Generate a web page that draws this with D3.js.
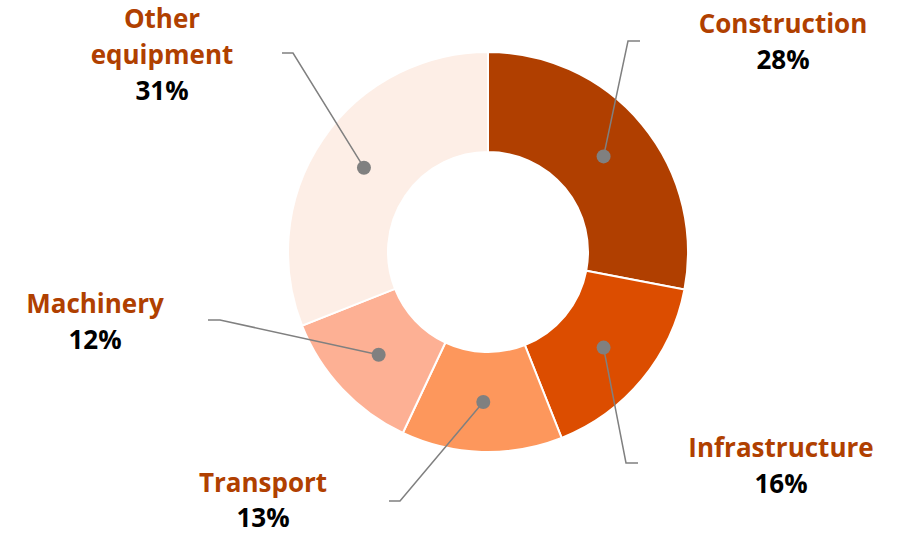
<!DOCTYPE html>
<html lang="en">
  <head>
    <meta charset="utf-8" />
    <title>Donut chart</title>
    <script src="https://d3js.org/d3.v7.min.js"></script>
    <style type="text/css">
      body {
        margin: 0;
        background: #ffffff;
      }
      text {
        font-family: "Open Sans", sans-serif;
        font-weight: bold;
        font-size: 26px;
      }
    </style>
  </head>
  <body>
    <script type="text/javascript">
      //Width and height
      var w = 897;
      var h = 534;

      //Data
      var categories = ["Construction", "Infrastructure", "Transport", "Machinery", "Other equipment"];
      var shares = [28, 16, 13, 12, 31];
      var colors = ["#b03f00", "#dc4d00", "#fd975c", "#fdb094", "#fdeee6"];

      //Label layout, offsets from the donut centre
      var labelLayout = [
        { elbow: [140, -211], end: [152, -211], tx: 295, lines: [-219] },
        { elbow: [138, 211], end: [150, 211], tx: 293, lines: [205] },
        { elbow: [-88, 249], end: [-99, 249], tx: -225, lines: [240], gap: 35 },
        { elbow: [-268, 68], end: [-280, 68], tx: -393, lines: [61] },
        { elbow: [-195, -199], end: [-206, -199], tx: -326, lines: [-224, -188] }
      ];

      var cx = 488;
      var cy = 252;
      var outerR = 200;
      var innerR = 100;
      var dotR = 150;

      var svg = d3
        .select("body")
        .append("svg")
        .attr("width", w)
        .attr("height", h);

      var g = svg.append("g").attr("transform", "translate(" + cx + "," + cy + ")");

      var pie = d3.pie().sort(null).value(function (d) {
        return d;
      });
      var arcs = pie(shares);

      var arc = d3.arc().innerRadius(innerR).outerRadius(outerR);
      var dotArc = d3.arc().innerRadius(dotR).outerRadius(dotR);

      //Slices
      g.selectAll("path.slice")
        .data(arcs)
        .enter()
        .append("path")
        .attr("class", "slice")
        .attr("d", arc)
        .attr("fill", function (d, i) {
          return colors[i];
        })
        .attr("stroke", "#ffffff")
        .attr("stroke-width", 2);

      //Leader lines
      g.selectAll("polyline")
        .data(arcs)
        .enter()
        .append("polyline")
        .attr("points", function (d, i) {
          var p = dotArc.centroid(d);
          var l = labelLayout[i];
          return [p, l.elbow, l.end].map(function (q) {
            return q.join(",");
          }).join(" ");
        })
        .attr("fill", "none")
        .attr("stroke", "#808080")
        .attr("stroke-width", 1.5);

      //Dots
      g.selectAll("circle")
        .data(arcs)
        .enter()
        .append("circle")
        .attr("cx", function (d) {
          return dotArc.centroid(d)[0];
        })
        .attr("cy", function (d) {
          return dotArc.centroid(d)[1];
        })
        .attr("r", 7)
        .attr("fill", "#808080");

      //Labels
      arcs.forEach(function (d, i) {
        var l = labelLayout[i];
        var words = l.lines.length > 1 ? categories[i].split(" ") : [categories[i]];
        words.forEach(function (word, k) {
          g.append("text")
            .attr("x", l.tx)
            .attr("y", l.lines[k])
            .attr("text-anchor", "middle")
            .attr("fill", "#b04000")
            .text(word);
        });
        g.append("text")
          .attr("x", l.tx)
          .attr("y", l.lines[l.lines.length - 1] + (l.gap || 36))
          .attr("text-anchor", "middle")
          .attr("fill", "#000000")
          .text(d.data + "%");
      });
    </script>
  </body>
</html>
